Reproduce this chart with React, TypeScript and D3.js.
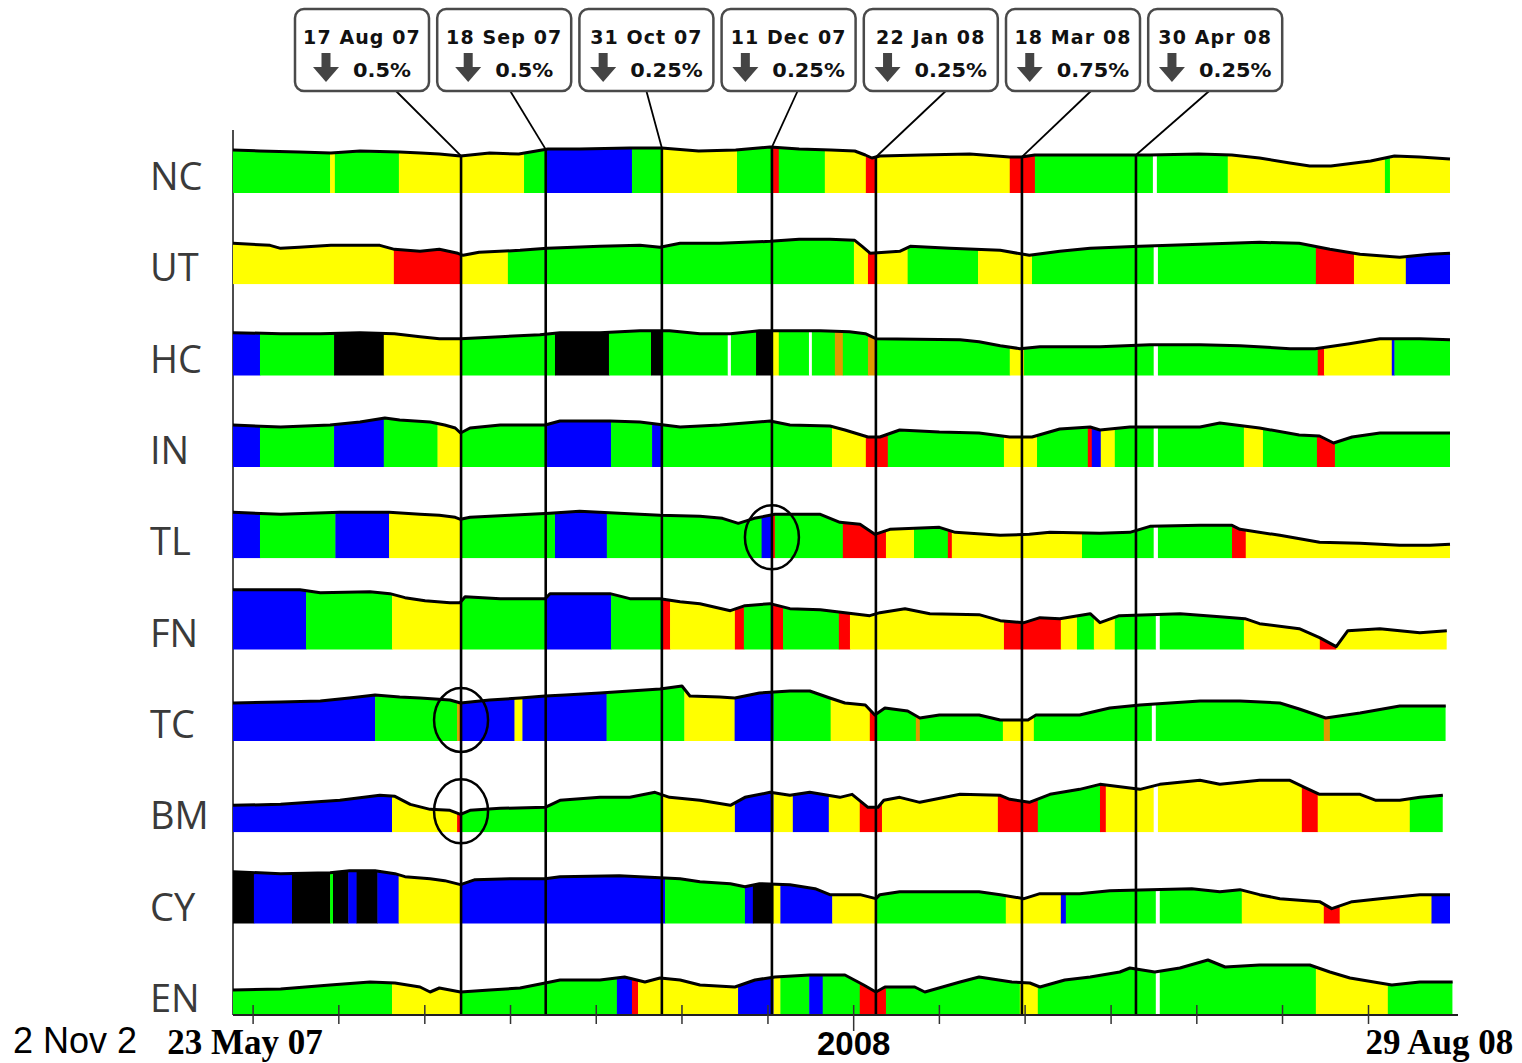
import * as d3 from "d3";

// rows of the panel, top to bottom
const rows = ["NC", "UT", "HC", "IN", "TL", "FN", "TC", "BM", "CY", "EN"];

const palette: Record<string, string> = {
  G: "#00ff00", Y: "#ffff00", B: "#0000ff", R: "#ff0000",
  K: "#000000", O: "#e09a00", W: "#ffffff",
};

// regime segments: [start day (from 23 May 07), colour key]
const ncSegments: [number, string][] = [[0, "G"], [36.7, "Y"], [38.5, "G"], [62.7, "Y"], [110, "G"], [118.3, "B"], [150.8, "G"], [162.1, "Y"], [190.5, "G"], [203.7, "R"], [206.3, "G"], [223.7, "Y"], [239.2, "R"], [243, "Y"], [293.6, "R"], [303.1, "G"], [347.7, "W"], [349.2, "G"], [376, "Y"], [435.4, "G"], [437.3, "Y"]];
const utSegments: [number, string][] = [[0, "Y"], [60.8, "R"], [86.2, "Y"], [103.9, "G"], [234.7, "Y"], [240, "R"], [243, "Y"], [255, "G"], [281.6, "Y"], [302, "G"], [348, "W"], [349.6, "G"], [409.3, "R"], [423.7, "Y"], [443.3, "B"]];
const hcSegments: [number, string][] = [[0, "B"], [10.2, "G"], [38.2, "K"], [57, "Y"], [85.8, "G"], [121.7, "K"], [142.1, "G"], [158, "K"], [162.5, "G"], [187, "W"], [188.2, "G"], [197.7, "K"], [204, "Y"], [206.3, "G"], [217.7, "W"], [218.8, "G"], [227.5, "O"], [230.5, "G"], [240, "O"], [243, "G"], [293.6, "Y"], [299, "G"], [348, "W"], [349.6, "G"], [410, "R"], [412.4, "Y"], [438, "B"], [439, "G"]];
const inSegments: [number, string][] = [[0, "B"], [10.2, "G"], [38.2, "B"], [57, "G"], [77.3, "Y"], [85.8, "G"], [118.7, "B"], [142.9, "G"], [158.4, "B"], [162.5, "G"], [226.4, "Y"], [239.2, "R"], [247.5, "G"], [291.4, "Y"], [303.9, "G"], [323.1, "R"], [324.6, "B"], [328, "Y"], [333.3, "G"], [348, "W"], [349.6, "G"], [382.1, "Y"], [389.3, "G"], [409.7, "R"], [416.5, "G"]];
const tlSegments: [number, string][] = [[0, "B"], [10.2, "G"], [38.7, "B"], [59, "Y"], [85.8, "G"], [121.7, "B"], [141.3, "G"], [199.8, "B"], [204, "R"], [204.8, "G"], [230.5, "R"], [246.8, "Y"], [257.4, "G"], [270.2, "R"], [271.7, "Y"], [320.9, "G"], [348, "W"], [349.6, "G"], [377.6, "R"], [382.8, "Y"]];
const fnSegments: [number, string][] = [[0, "B"], [27.6, "G"], [60.1, "Y"], [85.8, "G"], [118.3, "B"], [142.9, "G"], [162.5, "R"], [165.2, "Y"], [189.7, "R"], [193.1, "G"], [204, "R"], [207.9, "G"], [229, "R"], [233.2, "Y"], [291.4, "R"], [312.9, "Y"], [319, "G"], [325.4, "Y"], [333.3, "G"], [348.8, "W"], [350.3, "G"], [382.1, "Y"], [410.8, "R"], [416.9, "Y"]];
const tcSegments: [number, string][] = [[0, "B"], [53.7, "G"], [84.7, "O"], [85.8, "B"], [106.4, "Y"], [109.4, "B"], [141.2, "G"], [170.6, "Y"], [189.6, "B"], [204.3, "G"], [225.9, "Y"], [240.7, "R"], [243, "G"], [258.1, "O"], [259.6, "G"], [291, "Y"], [302.7, "G"], [347.3, "W"], [348.8, "G"], [412.3, "O"], [414.6, "G"]];
const bmSegments: [number, string][] = [[0, "B"], [60.1, "Y"], [84.7, "R"], [86.2, "G"], [162.5, "Y"], [189.7, "B"], [204.3, "Y"], [211.6, "B"], [225.2, "Y"], [236.9, "R"], [245.3, "Y"], [289.1, "R"], [304.2, "G"], [327.7, "R"], [329.9, "Y"], [348, "W"], [349.6, "Y"], [404, "R"], [410, "Y"], [444.8, "G"]];
const cySegments: [number, string][] = [[0, "K"], [7.9, "B"], [22.3, "K"], [36.7, "G"], [37.8, "K"], [43.6, "B"], [46.7, "K"], [54.6, "B"], [62.6, "Y"], [85.8, "B"], [163.3, "G"], [193.5, "B"], [196.5, "K"], [204.3, "Y"], [206.9, "B"], [226.5, "Y"], [243, "G"], [292.1, "Y"], [312.9, "B"], [314.8, "G"], [348.8, "W"], [350.3, "G"], [381.3, "Y"], [412.3, "R"], [418.3, "Y"], [453, "B"]];
const enSegments: [number, string][] = [[0, "G"], [60.1, "Y"], [85.8, "G"], [145.1, "B"], [150.8, "R"], [153.1, "Y"], [190.9, "B"], [204.3, "Y"], [206.9, "G"], [217.8, "B"], [222.9, "G"], [236.9, "R"], [246.8, "G"], [297.4, "Y"], [304.2, "G"], [348.8, "W"], [350.3, "G"], [409.3, "Y"], [436.5, "G"]];

// level profiles: [day, height]
const ncProfile = [[0, 43], [10, 42], [25, 41], [37, 40], [48, 42], [63, 41], [71, 40], [78, 39], [86, 37], [97, 40], [108, 39], [119, 44], [131, 44], [150, 45], [162, 45], [176, 42], [190, 43], [203, 46], [214, 44], [226, 43], [235, 42], [239, 38], [241.5, 35], [244.5, 37], [260, 38], [278.5, 39], [293.6, 36], [298, 36], [303, 38], [328, 38], [346.5, 38], [365, 39], [377.5, 38], [388, 35], [399.5, 30], [407, 27], [415, 27], [430, 32], [439, 37], [448.6, 36], [460, 34]];
const utProfile = [[0, 41], [14, 39], [18, 36], [25, 37], [37, 39], [55.5, 39], [61, 35], [70.7, 33], [78, 35], [85, 31], [87, 29], [93, 32], [108.5, 34], [118.7, 36], [138.7, 38], [153.8, 39], [161.4, 37], [169, 41], [184, 41], [203, 43], [214, 45], [225.6, 45], [235, 44], [237.8, 38], [240.9, 31], [252, 33], [256, 38], [271, 36], [290, 34], [301, 29], [312.5, 33], [324, 36], [342.8, 38], [365.5, 40], [388, 42], [403, 41], [414.6, 35], [426, 30], [441, 27], [452.4, 30], [460, 31]];
const hcProfile = [[0, 43], [18, 42], [33, 42], [48, 43], [61, 42], [70.7, 39], [78, 37], [86, 37], [101, 39], [116, 41], [123.6, 43], [138.7, 43], [153.8, 45], [165, 45], [176.5, 42], [188, 42], [199, 45], [210.5, 45], [222, 45], [233, 44], [239, 42], [243, 37], [274.8, 36], [282, 34], [290, 30], [297.4, 27], [305, 29], [327.7, 29], [346.6, 31], [365.5, 31], [380.6, 30], [399.5, 27], [409, 27], [422, 32], [433.5, 37], [448.6, 37], [460, 36]];
const inProfile = [[0, 42], [18, 40], [36.7, 42], [48, 45], [57.4, 49], [63, 47], [74.5, 45], [80, 42], [84, 39], [86, 34], [89.6, 39], [101, 42], [118, 42], [123.6, 46], [142.5, 46], [153.8, 45], [169, 40], [184, 42], [203, 46], [210.5, 42], [225.6, 41], [231.3, 37], [240, 30], [244.5, 30], [252, 37], [267, 35], [282, 34], [293.6, 30], [302, 30], [312.5, 38], [324, 40], [327.7, 37], [339, 40], [365.5, 40], [373, 44], [388, 39], [403, 32], [410.7, 31], [416, 24], [423, 30], [433.5, 34], [460, 34]];
const tlProfile = [[0, 46], [18, 44], [40.4, 46], [59, 46], [70.7, 44], [78, 43], [84, 41], [86, 39], [89.6, 41], [104.7, 43], [119.8, 45], [131, 47], [146, 45], [161.4, 43], [176.5, 42], [185, 40], [191, 35], [197, 40], [204.8, 44], [222, 44], [229.4, 36], [237, 34], [242.6, 24], [248.3, 29], [267, 31], [273, 26], [290, 23], [301, 24], [308.8, 26], [327.7, 25], [339, 26], [346.6, 32], [365.5, 33], [377.6, 33], [380.6, 29], [395.7, 23], [410.7, 16], [426, 15], [441, 13], [452.4, 13], [460, 14]];
const fnProfile = [[0, 60], [25.3, 60], [33, 57], [51.8, 58], [59.3, 56], [65, 52], [72.6, 49], [82, 47], [85.8, 47], [87.7, 53], [101, 51], [118, 51], [119.8, 56], [142.5, 56], [150, 51], [161.4, 51], [169, 48], [176.5, 46], [188, 39], [193.5, 44], [203, 46], [210.5, 41], [222, 40], [231.3, 37], [240.7, 34], [244.5, 37], [254, 41], [263.4, 36], [282, 35], [290, 29], [299, 27], [305, 32], [312.5, 31], [324, 36], [327.7, 27], [335, 34], [358, 36], [373, 33], [382.5, 31], [388, 26], [403, 21], [410.7, 12], [417, 3], [421.4, 19], [433.5, 21], [448.6, 17], [458.8, 19]];
const tcProfile = [[0, 38], [18, 39], [33, 40], [44, 43], [53.7, 46], [63, 44], [70.7, 43], [82, 41], [86, 38], [97, 41], [108.5, 43], [118, 45], [125.5, 46], [138.7, 48], [150, 50], [161.4, 52], [169.7, 55], [172.7, 45], [184, 44], [189.7, 43], [199, 48], [210.5, 50], [218, 50], [225.6, 43], [231.3, 38], [239, 36], [242.6, 26], [246.4, 33], [255, 30], [259.6, 23], [267, 26], [282, 26], [290, 21], [300.5, 21], [303.5, 26], [320, 26], [331.4, 33], [342.8, 36], [365.5, 40], [380.6, 40], [395.7, 38], [403, 32], [413, 23], [426, 28], [441, 35], [458.4, 35]];
const bmProfile = [[0, 27], [18, 28], [40.4, 32], [55.5, 37], [61.2, 36], [67, 28], [74.5, 23], [82, 22], [86, 18], [89.6, 22], [101, 24], [118, 25], [123.6, 32], [138.7, 35], [150, 35], [159.5, 40], [165, 35], [176.5, 32], [188, 27], [193.5, 35], [203, 40], [210.5, 37], [218, 40], [229.4, 35], [234, 38], [240, 25], [243.8, 25], [246, 32], [252, 35], [259.6, 30], [274.8, 38], [290, 37], [293.6, 33], [301, 30], [308.8, 38], [320, 43], [327.7, 48], [342.8, 43], [350.3, 48], [365.5, 52], [373, 48], [388, 52], [399.5, 52], [405, 45], [410.7, 38], [426, 38], [432, 32], [441, 32], [448.6, 35], [457.3, 37]];
const cyProfile = [[0, 52], [18, 50], [36.7, 51], [44, 53], [53.7, 53], [61.2, 50], [65, 47], [74.5, 45], [80, 43], [86, 39], [91.5, 44], [104.7, 45], [118, 45], [123.6, 47], [146, 48], [161.4, 46], [169, 45], [176.5, 42], [188, 40], [193.5, 37], [199, 40], [210.5, 39], [220, 35], [225.6, 29], [237, 29], [243, 25], [244.5, 29], [252, 32], [282, 32], [290, 29], [299, 25], [305, 30], [320, 30], [331.4, 33], [346.6, 34], [362.4, 35], [373, 32], [380.6, 34], [388, 29], [395.7, 25], [410.7, 22], [415.3, 15], [423, 22], [433.5, 25], [448.6, 29], [460, 29]];
const enProfile = [[0, 25], [18, 26], [36.7, 30], [51.8, 33], [61.2, 32], [70.7, 28], [74.5, 23], [78, 27], [86, 23], [97, 25], [108.5, 27], [118, 32], [123.6, 35], [138.7, 35], [148, 38], [155.7, 33], [161.4, 37], [169, 35], [176.5, 30], [189.7, 28], [197.3, 35], [204.8, 38], [218, 40], [231.3, 40], [238.4, 30], [243, 23], [246.4, 28], [257.7, 28], [261.5, 23], [274.8, 33], [282, 38], [294.4, 33], [301.2, 32], [305, 28], [314.4, 35], [324, 38], [335.2, 43], [339, 47], [348.4, 43], [357.9, 47], [368.5, 55], [375, 48], [388, 50], [407, 50], [414.6, 43], [422.2, 37], [433.5, 32], [438, 30], [448.6, 33], [461, 33]];

const segments: Record<string, [number, string][]> = {
  NC: ncSegments, UT: utSegments, HC: hcSegments, IN: inSegments, TL: tlSegments,
  FN: fnSegments, TC: tcSegments, BM: bmSegments, CY: cySegments, EN: enSegments,
};
const profiles: Record<string, number[][]> = {
  NC: ncProfile, UT: utProfile, HC: hcProfile, IN: inProfile, TL: tlProfile,
  FN: fnProfile, TC: tcProfile, BM: bmProfile, CY: cyProfile, EN: enProfile,
};

// rate cut events
const eventLabels = ["17 Aug 07", "18 Sep 07", "31 Oct 07", "11 Dec 07", "22 Jan 08", "18 Mar 08", "30 Apr 08"];
const eventCuts = ["0.5%", "0.5%", "0.25%", "0.25%", "0.25%", "0.75%", "0.25%"];
const eventDays = [86.2, 118.2, 162.1, 203.7, 243, 298.2, 341.3];

// highlighted spots: row + event index
const circled = [{ row: "TL", event: 3 }, { row: "TC", event: 0 }, { row: "BM", event: 0 }];

const tickDays = [7.6, 40, 72.5, 104.9, 137.3, 169.7, 202.2, 234.6, 267, 299.4, 331.9, 364.3, 396.7, 429.2];
const axisLabels = [
  { text: "23 May 07", day: 4.5, serif: true },
  { text: "2008", day: 234.6, serif: false },
  { text: "29 Aug 08", day: 456, serif: true },
];

function heightAt(p: number[][], day: number) {
  const i = d3.bisector((d: number[]) => d[0]).left(p, day);
  if (i <= 0) return p[0][1];
  if (i >= p.length) return p[p.length - 1][1];
  const a = p[i - 1], b = p[i];
  return a[1] + ((day - a[0]) / (b[0] - a[0])) * (b[1] - a[1]);
}

export default function App() {
  const W = 1522, H = 1063;
  const x = d3.scaleLinear().domain([0, 460]).range([233, 1450]);
  const rowY = d3.scalePoint().domain(rows).range([193, 1015]);
  const h = d3.scaleLinear().domain([0, 60]).range([0, 60]);
  const axisY = 1015;

  const boxW = 134, boxH = 82, boxTop = 9;
  const boxLeft = (i: number) => 295 + i * 142.2;
  const leaderDx = [34, 6, 0, 9, 15, 18, -6];

  const ncBase = rowY("NC")!;

  return (
    <svg width={W} height={H} style={{ position: "absolute", left: 0, top: 0, background: "#fff" }}>
      <defs>
        {rows.map(r => {
          const base = rowY(r)!;
          const area = d3.area<number[]>().x(d => x(d[0])).y0(base).y1(d => base - h(d[1]));
          return (
            <clipPath id={`clip-${r}`} key={r}>
              <path d={area(profiles[r])!} />
            </clipPath>
          );
        })}
      </defs>

      {/* left axis line */}
      <line x1={233} x2={233} y1={130} y2={axisY} stroke="#111" strokeWidth={1.5} />

      {rows.map(r => {
        const base = rowY(r)!;
        const prof = profiles[r];
        const segs = segments[r];
        const end = prof[prof.length - 1][0];
        const line = d3.line<number[]>().x(d => x(d[0])).y(d => base - h(d[1]));
        return (
          <g key={r}>
            <g clipPath={`url(#clip-${r})`}>
              {segs.map((s, i) => {
                const e = i < segs.length - 1 ? segs[i + 1][0] : end;
                return (
                  <rect key={i} x={x(s[0])} y={base - 80} width={x(e) - x(s[0]) + (i < segs.length - 1 ? 0.4 : 0)}
                    height={80} fill={palette[s[1]]} />
                );
              })}
            </g>
            <path d={line(prof)!} fill="none" stroke="#000" strokeWidth={3} strokeLinejoin="round" />
            <text x={150} y={base - 3} fontFamily="'Open Sans', sans-serif" fontSize={38} fill="#3a3a3a">{r}</text>
          </g>
        );
      })}

      {/* event lines and callouts */}
      {eventDays.map((day, i) => {
        const ex = x(day);
        const top = ncBase - h(heightAt(ncProfile, day));
        const left = boxLeft(i);
        const cx = left + boxW / 2;
        const tw = eventCuts[i].length * 14.5;
        const gw = 26 + 14 + tw;
        const sx = cx - gw / 2;
        return (
          <g key={i}>
            <line x1={ex} x2={ex} y1={top} y2={axisY} stroke="#000" strokeWidth={2.6} />
            <line x1={cx + leaderDx[i]} y1={boxTop + boxH} x2={ex} y2={top} stroke="#000" strokeWidth={1.8} />
            <rect x={left} y={boxTop} width={boxW} height={boxH} rx={9} fill="#fff" stroke="#4a4a4a" strokeWidth={2.5} />
            <text x={cx} y={44} textAnchor="middle" fontFamily="'DejaVu Sans', sans-serif" fontWeight="bold"
              fontSize={19} letterSpacing={1.1} fill="#111">{eventLabels[i]}</text>
            <rect x={sx + 8.5} y={53} width={9} height={16} fill="#444" />
            <path d={`M${sx},${67}L${sx + 26},${67}L${sx + 13},${82}Z`} fill="#444" />
            <text x={sx + 40} y={77} fontFamily="'DejaVu Sans', sans-serif" fontWeight="bold" fontSize={20}
              textLength={tw} lengthAdjust="spacingAndGlyphs" fill="#111">{eventCuts[i]}</text>
          </g>
        );
      })}

      {circled.map((c, i) => (
        <ellipse key={i} cx={x(eventDays[c.event])} cy={rowY(c.row)! - 21} rx={27} ry={32}
          fill="none" stroke="#000" strokeWidth={2.5} />
      ))}

      {/* bottom axis */}
      <line x1={233} x2={1458} y1={axisY} y2={axisY} stroke="#222" strokeWidth={2} />
      {tickDays.map((d, i) => (
        <line key={i} x1={x(d)} x2={x(d)} y1={axisY - 10} y2={axisY + (i === 7 ? 16 : 9)} stroke="#333" strokeWidth={1.5} />
      ))}
      {axisLabels.map((l, i) => (
        <text key={i} x={x(l.day)} y={l.serif ? 1054 : 1055} textAnchor="middle"
          fontFamily={l.serif ? "'Liberation Serif', serif" : "'Liberation Sans', sans-serif"}
          fontWeight="bold" fontSize={l.serif ? 35 : 33} fill="#000">{l.text}</text>
      ))}
      <text x={13} y={1053} fontFamily="'Liberation Sans', sans-serif" fontSize={36} fill="#000">2 Nov 2</text>
    </svg>
  );
}
